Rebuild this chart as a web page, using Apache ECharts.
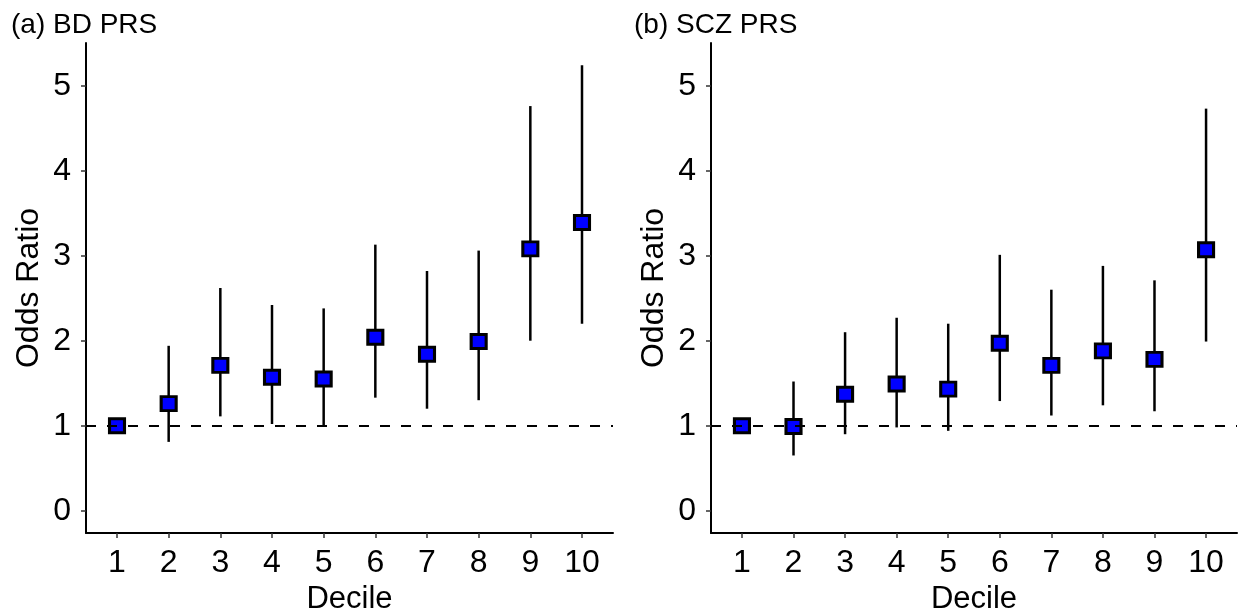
<!DOCTYPE html>
<html>
<head>
<meta charset="utf-8">
<script src="https://cdn.jsdelivr.net/npm/echarts@6/dist/echarts.min.js"></script>
<style>
html,body{margin:0;padding:0;background:#fff;}
#chart{width:1239px;height:616px;}
</style>
</head>
<body>
<div id="chart"></div>
<script>
const deciles = [1, 2, 3, 4, 5, 6, 7, 8, 9, 10];
const yTicks = [0, 1, 2, 3, 4, 5];
const panelTitles = ['(a) BD PRS', '(b) SCZ PRS'];
const xTitle = 'Decile';
const yTitle = 'Odds Ratio';
const refLine = 1;

const bdOR   = [1.00, 1.26, 1.71, 1.57, 1.55, 2.04, 1.84, 1.99, 3.08, 3.39];
const bdLow  = [1.00, 0.81, 1.11, 1.02, 1.00, 1.33, 1.20, 1.30, 2.00, 2.20];
const bdHigh = [1.00, 1.94, 2.62, 2.42, 2.38, 3.13, 2.82, 3.06, 4.76, 5.24];

const sczOR   = [1.00, 0.99, 1.37, 1.49, 1.43, 1.97, 1.71, 1.88, 1.78, 3.07];
const sczLow  = [1.00, 0.65, 0.90, 0.98, 0.94, 1.29, 1.12, 1.24, 1.17, 1.99];
const sczHigh = [1.00, 1.52, 2.10, 2.27, 2.20, 3.01, 2.60, 2.88, 2.71, 4.73];

const FONT = '"Liberation Sans", Arial, Helvetica, sans-serif';
const panels = [
  {or: bdOR, low: bdLow, high: bdHigh},
  {or: sczOR, low: sczLow, high: sczHigh}
];

const chart = echarts.init(document.getElementById('chart'), null, {renderer: 'canvas'});

const grids = [
  {left: 86, right: 626, top: 43, bottom: 83, containLabel: false, outerBoundsMode: 'none'},
  {left: 711, right: 2, top: 43, bottom: 83, containLabel: false, outerBoundsMode: 'none'}
];

const xAxes = grids.map((g, i) => ({
  type: 'value', gridIndex: i, min: 0.4, max: 10.6,
  name: xTitle, nameLocation: 'middle', nameGap: 50,
  nameTextStyle: {fontFamily: FONT, fontSize: 31, color: '#000'},
  axisLine: {show: true, onZero: false, lineStyle: {color: '#000', width: 2}},
  axisTick: {show: true, length: 5, customValues: deciles, lineStyle: {color: '#333', width: 1.5}},
  axisLabel: {show: true, customValues: deciles, margin: 14, fontFamily: FONT, fontSize: 32, color: '#000'},
  splitLine: {show: false}
}));

const yAxes = grids.map((g, i) => ({
  type: 'value', gridIndex: i, min: -0.262, max: 5.502,
  name: yTitle, nameLocation: 'middle', nameGap: 41, nameRotate: 90,
  nameTextStyle: {fontFamily: FONT, fontSize: 32, color: '#000'},
  axisLine: {show: true, onZero: false, lineStyle: {color: '#000', width: 2}},
  axisTick: {show: true, length: 5, customValues: yTicks, lineStyle: {color: '#333', width: 1.5}},
  axisLabel: {show: true, customValues: yTicks, margin: 15, fontFamily: FONT, fontSize: 32, color: '#000'},
  splitLine: {show: false}
}));

const series = [];
panels.forEach((p, i) => {
  series.push({
    type: 'line', xAxisIndex: i, yAxisIndex: i, data: [], z: 1, silent: true,
    markLine: {
      silent: true, symbol: ['none', 'none'], label: {show: false},
      lineStyle: {color: '#000', width: 2.2, type: [10, 11]},
      data: [{yAxis: refLine}],
      animation: false
    }
  });
  series.push({
    type: 'custom', xAxisIndex: i, yAxisIndex: i, z: 2, silent: true,
    data: deciles.map((d, k) => [d, p.low[k], p.high[k]]),
    encode: {x: 0, y: [1, 2]},
    renderItem: function (params, api) {
      const a = api.coord([api.value(0), api.value(1)]);
      const b = api.coord([api.value(0), api.value(2)]);
      return {type: 'line', shape: {x1: a[0], y1: a[1], x2: b[0], y2: b[1]},
              style: {stroke: '#000', lineWidth: 2.5}};
    }
  });
  series.push({
    type: 'scatter', xAxisIndex: i, yAxisIndex: i, z: 3, silent: true,
    symbol: 'rect', symbolSize: [15, 14],
    itemStyle: {color: '#0000ff', borderColor: '#000', borderWidth: 3, opacity: 1},
    data: deciles.map((d, k) => [d, p.or[k]])
  });
});

chart.setOption({
  animation: false,
  backgroundColor: '#fff',
  title: [
    {text: panelTitles[0], left: 6, top: 6, textStyle: {fontFamily: FONT, fontSize: 28, fontWeight: 'normal', color: '#000'}},
    {text: panelTitles[1], left: 629, top: 6, textStyle: {fontFamily: FONT, fontSize: 28, fontWeight: 'normal', color: '#000'}}
  ],
  grid: grids,
  xAxis: xAxes,
  yAxis: yAxes,
  series: series
});
</script>
</body>
</html>
